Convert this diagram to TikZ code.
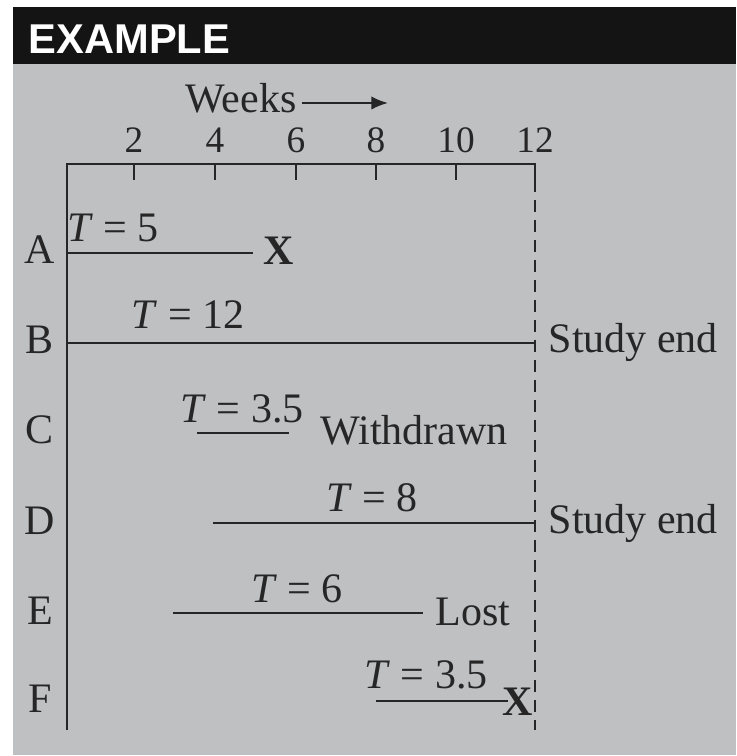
\documentclass[tikz,border=0pt,12pt]{standalone}
\usepackage{fontspec}
\setmainfont{Liberation Serif}
\newfontfamily\bandfont{Liberation Sans}
\usetikzlibrary{arrows.meta}
\definecolor{bandblack}{HTML}{141414}
\definecolor{panelgray}{HTML}{BFC0C2}
\definecolor{ink}{HTML}{262626}

\begin{document}
\fontsize{12.6}{15}\selectfont
\begin{tikzpicture}[x=.3pt,y=-.3pt,
  every node/.style={inner sep=0pt,text=ink},
  axis/.style={ink,line width=.75pt},
  span/.style={ink,line width=.65pt},
  cutoff/.style={ink,line width=.6pt,dash pattern=on 3.6pt off 2.4pt},
  weeknum/.style={anchor=base,font=\fontsize{11.2}{13}\selectfont},
  rowname/.style={anchor=base},
  stopmark/.style={anchor=base,font=\bfseries}]
\useasboundingbox (0,0) rectangle (736,756);
\fill[bandblack] (13,7) rectangle (736,64);
\fill[panelgray] (13,64) rectangle (736,755);
\node[anchor=base west,text=white,font=\bandfont\bfseries\fontsize{12.5}{15}\selectfont] (title) at (28,54) {EXAMPLE};
\node[anchor=base west] (weeks) at (185,113) {Weeks};
\coordinate (arrowfrom) at (302,103);
\coordinate (arrowto) at (388,103);
\draw[ink,line width=.6pt,-{Latex[length=5pt,width=4pt]}] (arrowfrom) -- (arrowto);
\draw[axis] (67,730) -- (67,164) -- (535,164) -- (535,180);
\draw[cutoff] (535,180) -- (535,730);
\foreach \wk/\px in {2/134,4/215,6/296,8/376,10/456}
  \draw[axis] (\px,164) -- (\px,180);
\node[weeknum] (wk2) at (134,153) {2};
\node[weeknum] (wk4) at (215,153) {4};
\node[weeknum] (wk6) at (296,153) {6};
\node[weeknum] (wk8) at (376,153) {8};
\node[weeknum] (wk10) at (456,153) {10};
\node[weeknum] (wk12) at (535,153) {12};
% subjects
\node[rowname] (rowA) at (40,264) {A};
\node[rowname] (rowB) at (40,354) {B};
\node[rowname] (rowC) at (40,444) {C};
\node[rowname] (rowD) at (40,534) {D};
\node[rowname] (rowE) at (40,624) {E};
\node[rowname] (rowF) at (40,712) {F};
% A
\coordinate (a0) at (67,253);
\coordinate (a1) at (253,253);
\draw[span] (a0) -- (a1);
\node[anchor=base] (tA) at (113,242) {\textit{T} = 5};
\node[stopmark] (xA) at (279,265) {X};
% B
\coordinate (b0) at (67,343);
\coordinate (b1) at (535,343);
\draw[span] (b0) -- (b1);
\node[anchor=base] (tB) at (188,329) {\textit{T} = 12};
\node[anchor=base west] (endB) at (548,353) {Study end};
% C
\coordinate (c0) at (197,433);
\coordinate (c1) at (289,433);
\draw[span] (c0) -- (c1);
\node[anchor=base] (tC) at (242,423) {\textit{T} = 3.5};
\node[anchor=base west] (wdC) at (320,445) {Withdrawn};
% D
\coordinate (d0) at (213,523);
\coordinate (d1) at (535,523);
\draw[span] (d0) -- (d1);
\node[anchor=base] (tD) at (372,511) {\textit{T} = 8};
\node[anchor=base west] (endD) at (548,533) {Study end};
% E
\coordinate (e0) at (173,613);
\coordinate (e1) at (423,613);
\draw[span] (e0) -- (e1);
\node[anchor=base] (tE) at (297,602) {\textit{T} = 6};
\node[anchor=base west] (lostE) at (435,625) {Lost};
% F
\coordinate (f0) at (376,701);
\coordinate (f1) at (508,701);
\draw[span] (f0) -- (f1);
\node[anchor=base] (tF) at (426,688) {\textit{T} = 3.5};
\node[stopmark] (xF) at (518,715) {X};
\end{tikzpicture}
\end{document}
